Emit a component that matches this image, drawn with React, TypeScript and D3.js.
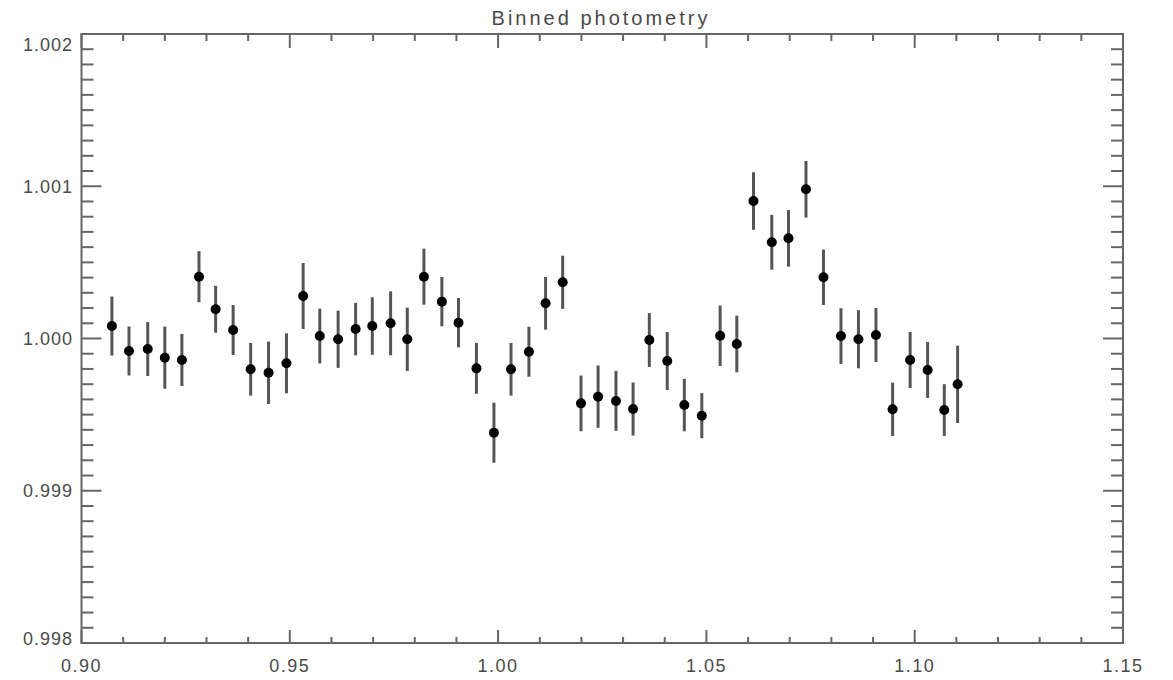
import React from "react";
import * as d3 from "d3";

const binTimes = [
  0.9073, 0.9114, 0.9159, 0.92, 0.9241, 0.9282, 0.9322, 0.9364, 0.9406, 0.9449,
  0.9492, 0.9532, 0.9572, 0.9616, 0.9658, 0.9698, 0.9742, 0.9782, 0.9822, 0.9865,
  0.9905, 0.9948, 0.999, 1.0031, 1.0074, 1.0114, 1.0155, 1.0199, 1.024, 1.0283,
  1.0324, 1.0363, 1.0406, 1.0447, 1.0489, 1.0533, 1.0573, 1.0613, 1.0657, 1.0697,
  1.0739, 1.0781, 1.0823, 1.0865, 1.0907, 1.0947, 1.0989, 1.1031, 1.1071, 1.1103,
];
const fluxValues = [
  1.000082, 0.999918, 0.999931, 0.999874, 0.999859, 1.000406, 1.000192, 1.000056, 0.999798, 0.999775,
  0.999837, 1.000279, 1.000016, 0.999995, 1.000062, 1.000082, 1.0001, 0.999995, 1.000406, 1.000242,
  1.000104, 0.999804, 0.999381, 0.999798, 0.999913, 1.000231, 1.000369, 0.999574, 0.999618, 0.99959,
  0.999537, 0.99999, 0.999852, 0.999563, 0.999493, 1.000018, 0.999964, 1.000903, 1.000632, 1.000658,
  1.00098, 1.000402, 1.000016, 0.999995, 1.000023, 0.999535, 0.999859, 0.999793, 0.99953, 0.999699,
];
const fluxErrors = [
  0.000194, 0.000161, 0.000177, 0.000204, 0.000171, 0.000168, 0.000154, 0.000164, 0.000173, 0.000205,
  0.000197, 0.000217, 0.00018, 0.000188, 0.000172, 0.000189, 0.00021, 0.000208, 0.000184, 0.000162,
  0.000162, 0.000167, 0.000197, 0.000173, 0.000164, 0.000173, 0.000175, 0.000183, 0.000205, 0.000197,
  0.000174, 0.000177, 0.00019, 0.000172, 0.000148, 0.000199, 0.000186, 0.000189, 0.00018, 0.000186,
  0.000186, 0.000182, 0.000183, 0.000191, 0.000177, 0.000175, 0.000184, 0.000184, 0.00017, 0.000254,
];
const xTickLabels = ["0.90", "0.95", "1.00", "1.05", "1.10", "1.15"];
const yTickLabels = ["0.998", "0.999", "1.000", "1.001", "1.002"];
const title = "Binned photometry";

const W = 1173;
const H = 680;
const left = 81.5;
const right = 1123;
const top = 34;
const bottom = 643;

export default function App() {
  const x = d3.scaleLinear().domain([0.9, 1.15]).range([left, right]);
  const y = d3.scaleLinear().domain([0.998, 1.002]).range([bottom, top]);

  const xMajor = xTickLabels.map((l) => +l);
  const xMinor = d3.range(0, 26).map((i) => 0.9 + i * 0.01).filter((_, i) => i % 5 !== 0);
  const yMajor = yTickLabels.map((l) => +l);
  const yMinor = d3.range(0, 41).map((i) => 0.998 + i * 0.0001).filter((_, i) => i % 10 !== 0);

  const axisColor = "#666";
  const textColor = "#4a4a4a";
  const font = "'Liberation Sans', Arial, sans-serif";

  return (
    <svg width={W} height={H} style={{ position: "absolute", left: 0, top: 0, background: "#fff" }}>
      <rect x={0} y={0} width={W} height={H} fill="#fff" />
      <text x={601} y={25} textAnchor="middle" fontFamily={font} fontSize={20} letterSpacing={3} fill={textColor}>
        {title}
      </text>
      {binTimes.map((t, i) => (
        <line key={"e" + i} x1={x(t)} x2={x(t)} y1={y(fluxValues[i] - fluxErrors[i])} y2={y(fluxValues[i] + fluxErrors[i])} stroke="#555" strokeWidth={3} />
      ))}
      {binTimes.map((t, i) => (
        <circle key={"p" + i} cx={x(t)} cy={y(fluxValues[i])} r={5} fill="#000" />
      ))}
      <rect x={left} y={top} width={right - left} height={bottom - top} fill="none" stroke={axisColor} strokeWidth={2} />
      {xMajor.map((v, i) => (
        <g key={"xm" + i}>
          <line x1={x(v)} x2={x(v)} y1={bottom} y2={bottom - 13} stroke={axisColor} strokeWidth={2} />
          <line x1={x(v)} x2={x(v)} y1={top} y2={top + 14} stroke={axisColor} strokeWidth={2} />
          <text x={x(v)} y={672} textAnchor="middle" fontFamily={font} fontSize={18} letterSpacing={1.5} fill={textColor}>
            {xTickLabels[i]}
          </text>
        </g>
      ))}
      {xMinor.map((v, i) => (
        <g key={"xn" + i}>
          <line x1={x(v)} x2={x(v)} y1={bottom} y2={bottom - 6} stroke={axisColor} strokeWidth={2} />
          <line x1={x(v)} x2={x(v)} y1={top} y2={top + 7} stroke={axisColor} strokeWidth={2} />
        </g>
      ))}
      {yMajor.map((v, i) => {
        const ly = Math.min(Math.max(y(v), top + 10), bottom - 5);
        return (
          <g key={"ym" + i}>
            <line x1={left} x2={left + 20} y1={y(v)} y2={y(v)} stroke={axisColor} strokeWidth={2} />
            <line x1={right} x2={right - 20} y1={y(v)} y2={y(v)} stroke={axisColor} strokeWidth={2} />
            <text x={73} y={ly + 6.5} textAnchor="end" fontFamily={font} fontSize={18} letterSpacing={1} fill={textColor}>
              {yTickLabels[i]}
            </text>
          </g>
        );
      })}
      {yMinor.map((v, i) => (
        <g key={"yn" + i}>
          <line x1={left} x2={left + 12} y1={y(v)} y2={y(v)} stroke={axisColor} strokeWidth={2} />
          <line x1={right} x2={right - 12} y1={y(v)} y2={y(v)} stroke={axisColor} strokeWidth={2} />
        </g>
      ))}
    </svg>
  );
}
